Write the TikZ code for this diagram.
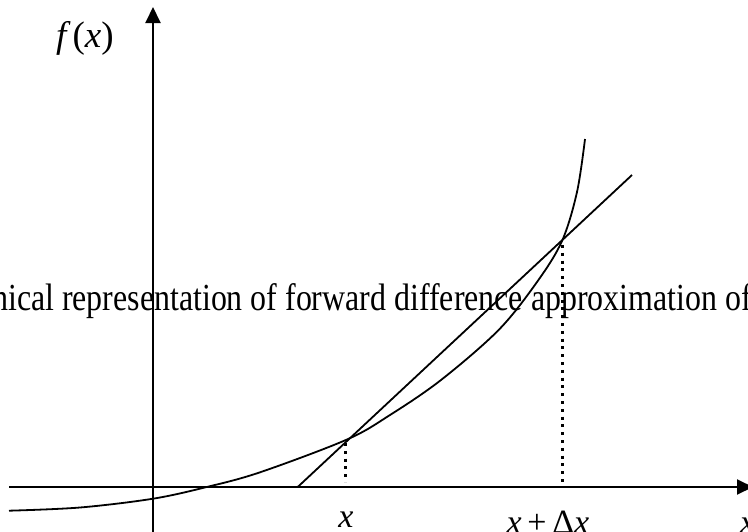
\documentclass[tikz,border=0pt]{standalone}
\usepackage{fontspec}
\usepackage{graphicx}
\setmainfont{Liberation Serif}
\usetikzlibrary{arrows.meta}
\begin{document}
\begin{tikzpicture}[x=1pt,y=-1pt,
  axis/.style={line width=2pt,-{Triangle[length=16pt,width=15pt]}},
  curveline/.style={line width=1.8pt},
  dotline/.style={line width=3pt,line cap=butt,dash pattern=on 3pt off 4.8pt},
  lbl/.style={inner sep=0pt,font=\fontsize{34}{40}\selectfont},
  captxt/.style={inner sep=0pt,font=\fontsize{31.9}{38}\selectfont}]
\useasboundingbox (0,0) rectangle (748,531);
\clip (0,0) rectangle (748,531);
% caption text (clipped as in the reference)
\node[captxt,anchor=base west] (cap) at (-8,310) {\scalebox{1}[1.2]{hical representation of forward difference approximation of}};
% axes
\coordinate (xl) at (9,487);
\coordinate (xr) at (753,487);
\coordinate (yb) at (153,540);
\coordinate (yt) at (153,7);
\draw[axis] (xl) -- (xr);
\draw[axis] (yb) -- (yt);
% curve
\draw[curveline] plot[smooth,tension=0.55] coordinates {
 (9,510.7) (80,507.5) (153,498.7) (206.7,487) (260,472.3) (347,439.5) (390,415)
 (441,380) (498.6,330) (537,282) (562,241) (577,192) (585,139)};
% secant
\coordinate (s0) at (297.7,487);
\coordinate (s1) at (632,175);
\draw[curveline] (s0) -- (s1);
% dotted verticals
\coordinate (p) at (345,443);
\coordinate (pb) at (345,482);
\coordinate (q) at (562,245);
\coordinate (qb) at (562,482);
\draw[dotline] (p) -- (pb);
\draw[dotline] (q) -- (qb);
% labels
\node[lbl,anchor=base] (lx) at (346,527) {\itshape x};
\node[lbl,anchor=base] (lxdx) at (548,533) {{\itshape x}\,+\,Δ{\itshape x}};
\node[lbl,anchor=base west] (lxa) at (740,533) {\itshape x};
\node[lbl,anchor=base west,font=\fontsize{37}{44}\selectfont] (lfx) at (56,47) {{\itshape f}\,({\itshape x})};
\end{tikzpicture}
\end{document}
